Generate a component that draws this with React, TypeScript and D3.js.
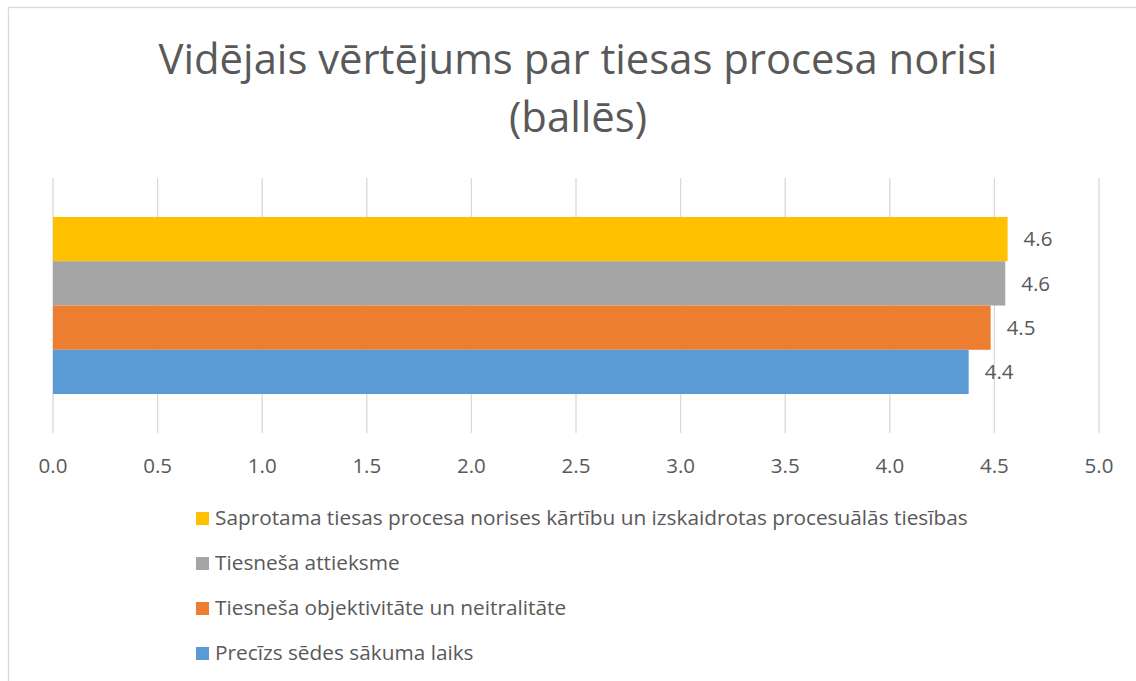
import React from "react";
import * as d3 from "d3";

// series in legend order (top to bottom)
const seriesNames = [
  "Saprotama tiesas procesa norises kārtību un izskaidrotas procesuālās tiesības",
  "Tiesneša attieksme",
  "Tiesneša objektivitāte un neitralitāte",
  "Precīzs sēdes sākuma laiks",
];
const seriesValues = [4.563, 4.552, 4.482, 4.377];
const seriesColors = ["#FFC000", "#A5A5A5", "#ED7D31", "#5B9BD5"];
const xTicks = [0, 0.5, 1, 1.5, 2, 2.5, 3, 3.5, 4, 4.5, 5];
const titleLines = ["Vidējais vērtējums par tiesas procesa norisi", "(ballēs)"];

const FONT = "'Open Sans', sans-serif";
const TEXT = "#595959";
const GRID = "#D9D9D9";

export default function App() {
  const x = d3.scaleLinear().domain([0, 5]).range([53, 1099]);
  const cat = d3.scaleBand().domain(["all"]).range([178, 433]).paddingOuter(0.22).paddingInner(0);
  const y = d3
    .scaleBand()
    .domain(seriesNames)
    .range([0, cat.bandwidth()])
    .padding(0);
  const fmt = d3.format(".1f");
  const y0 = cat("all") ?? 0;

  return (
    <div style={{ position: "absolute", left: 0, top: 0 }}>
      <svg width={1136} height={681} style={{ display: "block", background: "#fff" }}>
        <rect x={8.5} y={7.5} width={1140} height={690} fill="#fff" stroke={GRID} strokeWidth={1.3} />

        {titleLines.map((t, i) => (
          <text
            key={t}
            x={578}
            y={74 + i * 58}
            textAnchor="middle"
            fontFamily={FONT}
            fontSize={41.8}
            fill={TEXT}
          >
            {t}
          </text>
        ))}

        {xTicks.map((t) => (
          <g key={t}>
            <line x1={x(t)} x2={x(t)} y1={178} y2={433} stroke={GRID} strokeWidth={1.3} />
            <text x={x(t)} y={473} textAnchor="middle" fontFamily={FONT} fontSize={20.5} fill={TEXT}>
              {fmt(t)}
            </text>
          </g>
        ))}

        {seriesNames.map((s, i) => {
          const by = y0 + (y(s) ?? 0);
          return (
            <g key={s}>
              <rect x={x(0)} y={by} width={x(seriesValues[i]) - x(0)} height={y.bandwidth()} fill={seriesColors[i]} />
              <text
                x={x(seriesValues[i]) + 16}
                y={by + y.bandwidth() / 2}
                dy="0.36em"
                fontFamily={FONT}
                fontSize={20.5}
                fill={TEXT}
              >
                {fmt(seriesValues[i])}
              </text>
            </g>
          );
        })}

        {seriesNames.map((s, i) => (
          <g key={"lg" + s} transform={`translate(196, ${525 + i * 45})`}>
            <rect x={0} y={-13} width={13} height={13} fill={seriesColors[i]} />
            <text x={19} y={0} fontFamily={FONT} fontSize={20.8} fill={TEXT}>
              {s}
            </text>
          </g>
        ))}
      </svg>
    </div>
  );
}
